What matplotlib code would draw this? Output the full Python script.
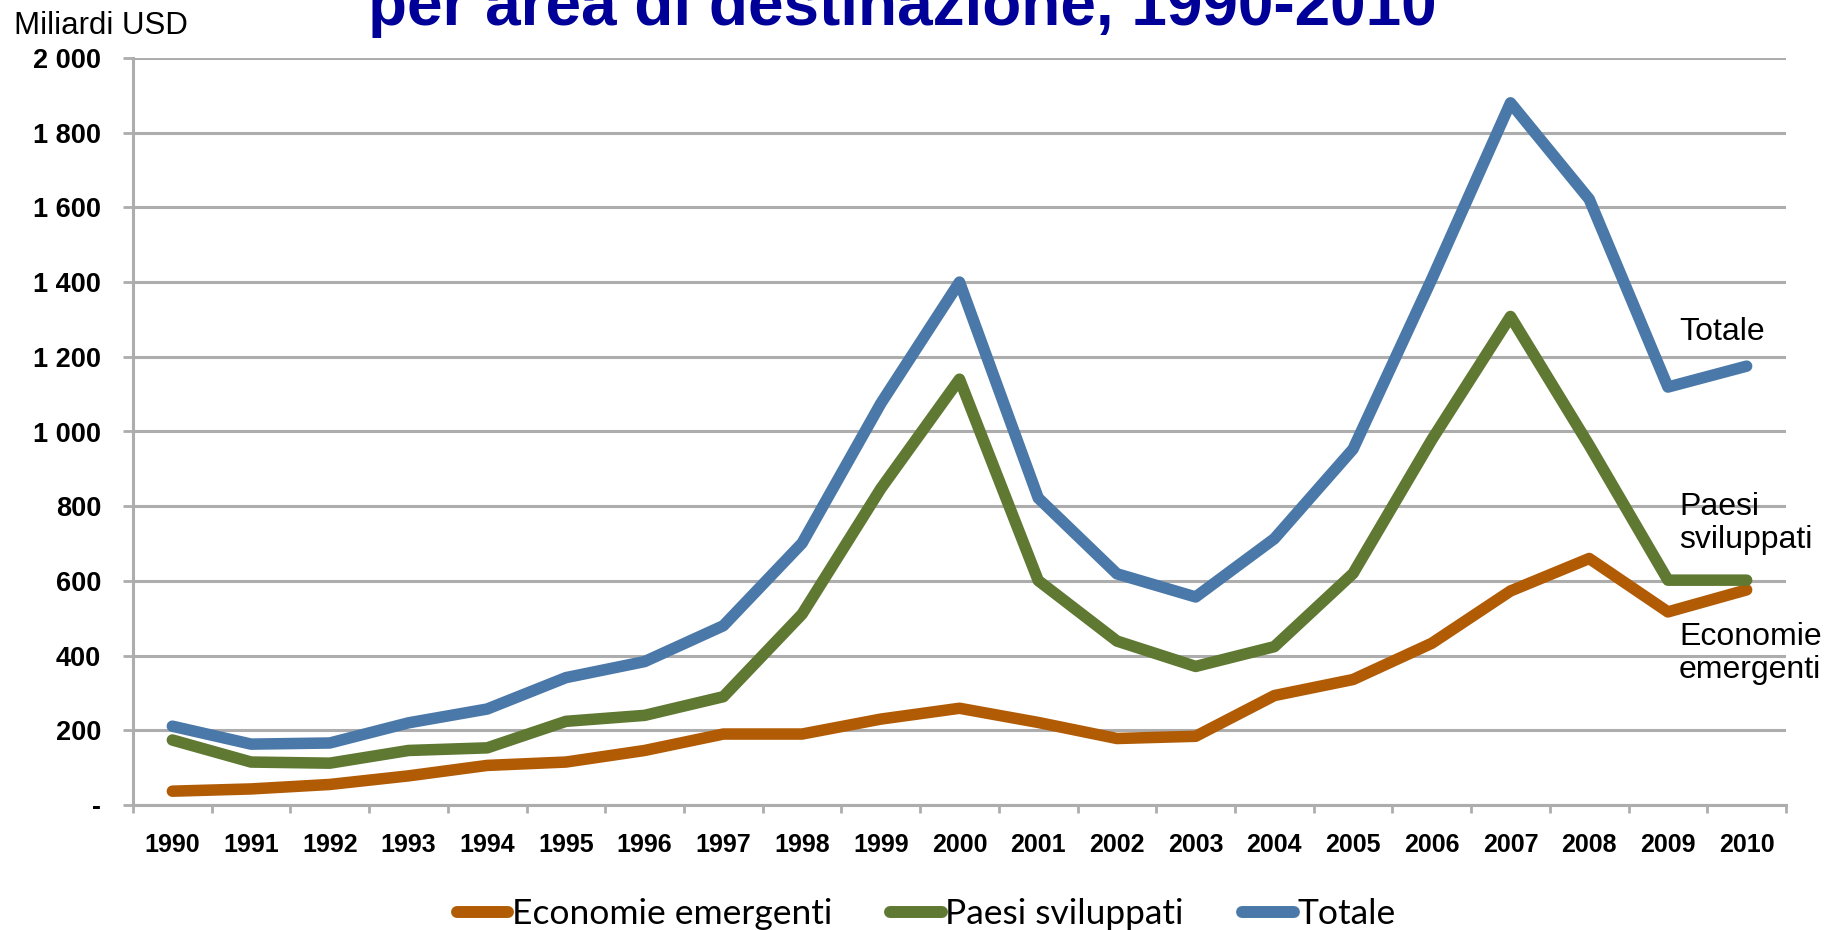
import matplotlib
matplotlib.use("Agg")
import matplotlib.pyplot as plt
from matplotlib import font_manager
from matplotlib.lines import Line2D

# data (miliardi USD)
anni = [str(a) for a in range(1990, 2011)]
economie_emergenti = [37, 43, 55, 78, 106, 115, 146, 190, 190, 230, 259,
                      221, 178, 184, 293, 336, 433, 573, 660, 517, 576]
paesi_sviluppati = [174, 115, 112, 146, 153, 224, 240, 290, 511, 847, 1140,
                    601, 439, 371, 424, 620, 978, 1308, 963, 602, 602]
totale = [211, 163, 166, 220, 257, 341, 384, 480, 701, 1075, 1400,
          822, 619, 557, 713, 953, 1408, 1880, 1622, 1119, 1175]
y_ticks = list(range(0, 2001, 200))

serie = [("Economie emergenti", economie_emergenti, "#B25B05"),
         ("Paesi sviluppati", paesi_sviluppati, "#5F7832"),
         ("Totale", totale, "#4A78A8")]

installed = {f.name for f in font_manager.fontManager.ttflist}
legend_font = "Lato" if "Lato" in installed else "DejaVu Sans"
tick_font = "Liberation Sans"

W, H = 1825, 930
fig = plt.figure(figsize=(W / 100, H / 100), dpi=100)
ax = fig.add_axes([133 / W, 1 - 805 / H, (1786 - 133) / W, (805 - 58) / H])

x = list(range(len(anni)))
for name, vals, col in serie:
    ax.plot(x, vals, color=col, lw=8.3, solid_capstyle="round",
            solid_joinstyle="round", zorder=3)

grid_col = "#ADADAD"
ax.set_xlim(-0.5, len(anni) - 0.5)
ax.set_ylim(0, 2000)
ax.set_yticks(y_ticks)
ax.set_yticklabels(["-" if v == 0 else f"{v:,}".replace(",", " ") for v in y_ticks],
                   fontfamily=tick_font, fontweight="bold", fontsize=19.5)
ax.tick_params(axis="y", length=7, width=2, color=grid_col, pad=16)
ax.yaxis.grid(True, color=grid_col, lw=2.2)
ax.set_axisbelow(True)

ax.set_xticks(x)
ax.set_xticklabels(anni, fontfamily=tick_font, fontweight="bold", fontsize=18)
ax.set_xticks([i - 0.5 for i in range(len(anni) + 1)], minor=True)
ax.tick_params(axis="x", which="major", length=0, pad=20)
ax.tick_params(axis="x", which="minor", length=6, width=2, color=grid_col)

for s in ["top", "right"]:
    ax.spines[s].set_visible(False)
for s in ["left", "bottom"]:
    ax.spines[s].set_color(grid_col)
    ax.spines[s].set_linewidth(2.2)

# titolo (tagliato in alto come nell'originale)
fig.text(902 / W, 1 - 25 / H, "per area di destinazione, 1990-2010",
         ha="center", va="baseline", fontfamily="Liberation Sans",
         fontweight="bold", fontsize=46, color="#000099")
fig.text(14 / W, 1 - 34 / H, "Miliardi USD", ha="left", va="baseline",
         fontfamily="Liberation Sans", fontsize=22.5)

# etichette a destra
lab_kw = dict(ha="left", va="baseline", fontfamily="Liberation Sans", fontsize=23,
              linespacing=1.15)
fig.text(1679 / W, 1 - 340 / H, "Totale", **lab_kw)
fig.text(1679 / W, 1 - 548 / H, "Paesi\nsviluppati", **lab_kw)
fig.text(1679 / W, 1 - 678 / H, "Economie\nemergenti", **lab_kw)

handles = [Line2D([], [], color=c, lw=8.6, solid_capstyle="round") for _, _, c in serie]
fig.legend(handles, [n for n, _, _ in serie], loc="center",
           bbox_to_anchor=(926 / W, 1 - 914 / H), ncol=3, frameon=False,
           prop={"family": legend_font, "size": 25.5}, handlelength=1.45,
           handletextpad=0.1, columnspacing=1.65, borderpad=0)

fig.savefig("out.png", dpi=100)
